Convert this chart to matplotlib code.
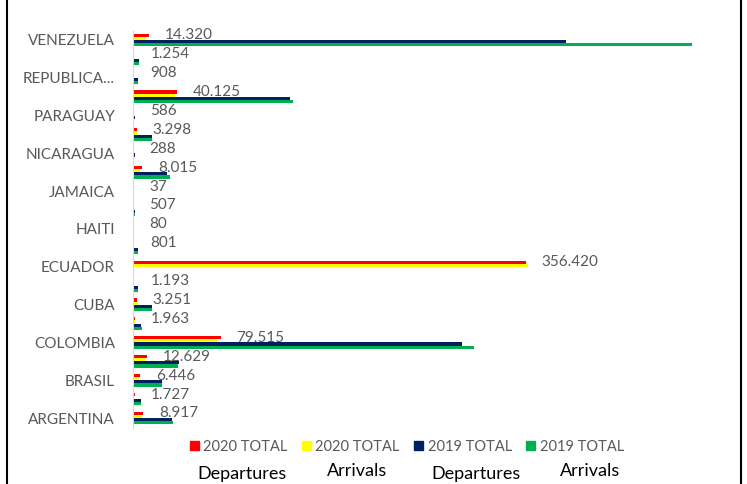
import numpy as np
import matplotlib.pyplot as plt
from matplotlib.patches import Patch
from matplotlib.lines import Line2D

plt.rcParams['font.family'] = ['Lato', 'DejaVu Sans']

# categories top -> bottom
paises = ['VENEZUELA', 'URUGUAY', 'REPUBLICA DOMINICANA', 'PERU', 'PARAGUAY',
          'PANAMA', 'NICARAGUA', 'MEXICO', 'JAMAICA', 'HONDURAS', 'HAITI',
          'GUATEMALA', 'ECUADOR', 'EL SALVADOR', 'CUBA', 'COSTA RICA',
          'COLOMBIA', 'CHILE', 'BRASIL', 'BOLIVIA', 'ARGENTINA']

sal_2020 = [14320, 1254, 908, 40125, 586, 3298, 288, 8015, 37, 507, 80,
            801, 356420, 1193, 3251, 1963, 79515, 12629, 6446, 1727, 8917]
lle_2020 = [11400, 1000, 700, 38000, 500, 3200, 300, 6800, 100, 400, 100,
            500, 359000, 900, 4500, 1500, 76000, 10700, 5300, 1200, 8400]
sal_2019 = [393000, 5300, 4100, 143000, 1500, 16800, 1400, 31000, 700, 2200, 600,
            4200, 0, 4400, 16800, 7400, 299000, 42000, 26500, 7100, 35600]
lle_2019 = [508000, 5000, 4300, 145000, 1300, 17400, 1300, 33400, 700, 2000, 600,
            4200, 0, 4400, 17400, 8300, 310000, 41000, 25900, 7000, 36200]

series = [sal_2020, lle_2020, sal_2019, lle_2019]
colores = ['#FF0000', '#FFFF00', '#002060', '#00B050']
leyenda = ['2020 TOTAL', '2020 TOTAL', '2019 TOTAL', '2019 TOTAL']
debajo = ['Departures', 'Arrivals', 'Departures', 'Arrivals']

gris = '#595959'

fig = plt.figure(figsize=(7.47, 4.84), dpi=100)
ax = fig.add_axes([133 / 747, 56.5 / 484, 594.7 / 747, 397 / 484])

y = np.arange(len(paises))
h = 0.165
offs = [-0.245, -0.08, 0.085, 0.25]
for vals, c, o in zip(series, colores, offs):
    ax.barh(y + o, vals, height=h, color=c)

for i, v in enumerate(sal_2020):
    ax.annotate(f'{v:,}'.replace(',', '.'), (v, y[i] + offs[0]),
                xytext=(16, 0), textcoords='offset pixels',
                ha='left', va='center', fontsize=11, color=gris)

ax.set_xlim(0, 540000)
ax.set_ylim(len(paises) - 0.5, -0.5)

etiquetas = [p if len(p) <= 12 else p[:9] + '...' for p in paises]
ax.set_yticks(y[::2])
ax.set_yticklabels(etiquetas[::2], fontsize=11, color=gris)
ax.tick_params(axis='y', length=0, pad=13)
ax.set_xticks([])
for s in ['top', 'right', 'bottom']:
    ax.spines[s].set_visible(False)
ax.spines['left'].set_color('#D9D9D9')

handles = [Patch(color=c) for c in colores]
leg = fig.legend(handles, leyenda, loc='center', ncol=4, frameon=False,
                 bbox_to_anchor=(407 / 747, 1 - 447 / 484),
                 handlelength=0.6, handleheight=0.6, handletextpad=0.3,
                 columnspacing=1.0, fontsize=10.5)
for t in leg.get_texts():
    t.set_color(gris)

xs = [242, 357, 476, 590]
ys = [474, 471, 474, 471]
for t, xx, yy in zip(debajo, xs, ys):
    fig.text(xx / 747, 1 - yy / 484, t, ha='center', va='center',
             fontsize=13, color='black')

# borde de la captura
fig.add_artist(Line2D([7 / 747, 7 / 747], [0, 1], color='black', lw=1.5))
fig.add_artist(Line2D([741 / 747, 741 / 747], [0, 1], color='black', lw=1.5))

fig.savefig('out.png', dpi=100)
